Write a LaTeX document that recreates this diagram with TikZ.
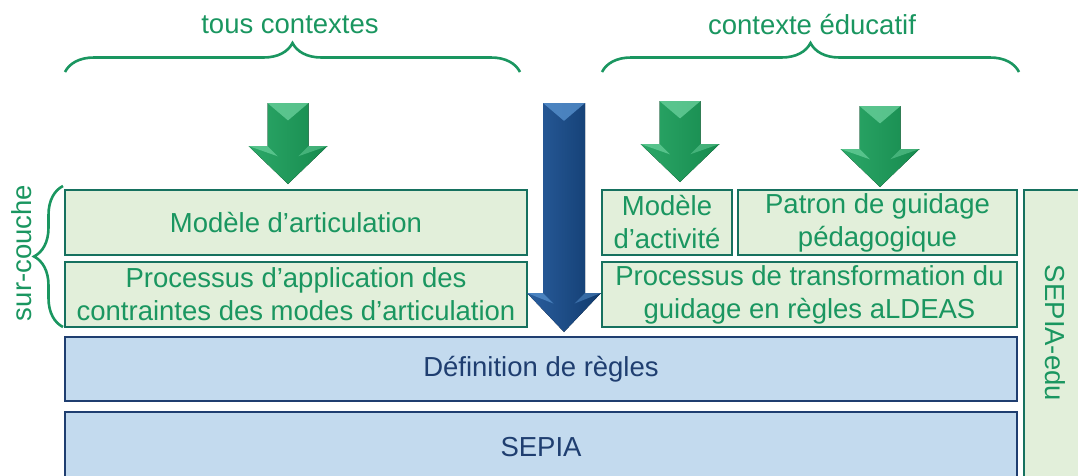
\documentclass[tikz,border=0pt]{standalone}
\usepackage{fontspec}
\setmainfont{Liberation Sans}
\usetikzlibrary{decorations.pathreplacing}
\definecolor{gtext}{HTML}{1A9660}
\definecolor{gborder}{HTML}{16715F}
\definecolor{gfill}{HTML}{E2EFDA}
\definecolor{bfill}{HTML}{C3DAEE}
\definecolor{bborder}{HTML}{1F3E70}
\definecolor{btext}{HTML}{1F3E70}
\definecolor{garL}{HTML}{2CA868}
\definecolor{garR}{HTML}{168A4E}
\definecolor{garB}{HTML}{6CD29E}
\definecolor{barL}{HTML}{2A5E9E}
\definecolor{barR}{HTML}{113B6E}
\definecolor{barB}{HTML}{5A95D2}
\newcommand\fs{\fontsize{27.5}{33}\selectfont}
% #1 cx, #2 top, #3 shaft half width, #4 head half width, #5 head start, #6 tip, #7 colour prefix
\newcommand\fatarrow[7]{%
 \begin{scope}[shift={(#1,#2)}]
  \fill[left color=#7arL, right color=#7arR] (-#3,0) -- (#3,0) -- (#3,#5) -- (#4,#5) -- (0,#6) -- (-#4,#5) -- (-#3,#5) -- cycle;
  \fill[#7arB, opacity=.75] (-#3,0) -- (#3,0) -- (0,#3*0.85) -- cycle;
  \fill[#7arB, opacity=.7] (-#4,#5) -- (-#3,#5) -- (-#3*0.5,#5+#3*0.5) -- cycle;
  \fill[#7arB, opacity=.5] (#4,#5) -- (#3,#5) -- (#3*0.5,#5+#3*0.5) -- cycle;
 \end{scope}}
\tikzset{
 gbox/.style={draw=gborder, line width=2.6pt, fill=gfill, text=gtext, inner sep=0pt, align=center, font=\fs},
 bbox/.style={draw=bborder, line width=2.6pt, fill=bfill, text=btext, inner sep=0pt, align=center, font=\fs},
 lbl/.style={text=gtext, font=\fs, inner sep=0pt},
 brc/.style={draw=gtext, line width=2.6pt, decorate, decoration={brace, amplitude=29pt}}
}
\begin{document}
\begin{tikzpicture}[x=1pt,y=-1pt]
\useasboundingbox (0,0) rectangle (1078,475);
\clip (0,0) rectangle (1078,475);
% braces and labels
\node[lbl] (tc) at (290,25) {tous contextes};
\node[lbl] (ce) at (812,25) {contexte éducatif};
\draw[brc] (65,72) -- (520,72);
\draw[brc] (602,72) -- (1019,72);
\draw[brc] (63,327) -- (63,186);
\node[lbl, rotate=90] (sc) at (22,253) {sur-couche};
% boxes
\node[gbox, minimum width=462, minimum height=65] (ma) at (296,222.5) {Modèle d’articulation};
\node[gbox, minimum width=462, minimum height=65] (pa) at (296,294.5) {Processus d’application des\\contraintes des modes d’articulation};
\node[gbox, minimum width=130, minimum height=65] (mact) at (667,222.5) {Modèle\\d’activité};
\node[gbox, minimum width=279, minimum height=65] (pat) at (877.5,222.5) {Patron de guidage\\pédagogique};
\node[gbox, minimum width=415, minimum height=65] (pt) at (809.5,294.5) {Processus de transformation du\\guidage en règles aLDEAS};
\node[bbox, minimum width=952, minimum height=64] (def) at (541,369) {Définition de règles};
\node[bbox, minimum width=952, minimum height=70] (sepia) at (541,447) {SEPIA};
\draw[draw=gborder, line width=2.6pt, fill=gfill] (1024,190) rectangle (1100,500);
\node[lbl, rotate=-90] (edu) at (1055,333) {SEPIA-edu};
% arrows
\fatarrow{288}{103}{20.5}{39.5}{43}{81}{g}
\fatarrow{680}{101}{20.5}{39.5}{43}{81}{g}
\fatarrow{880}{106}{20.5}{39.5}{43}{81}{g}
\fatarrow{564}{103}{21}{37}{190}{229}{b}
\end{tikzpicture}
\end{document}
